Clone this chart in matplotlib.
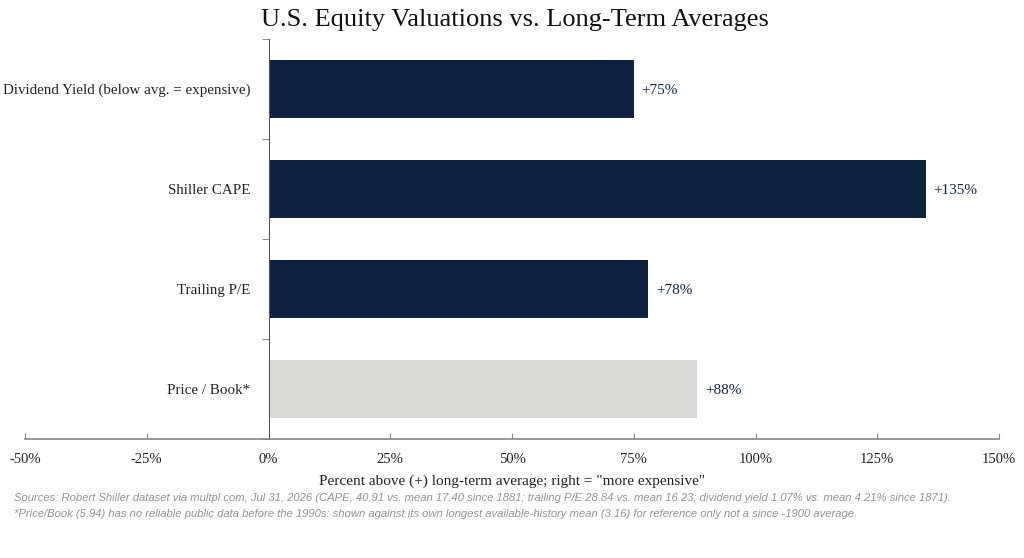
import matplotlib.pyplot as plt

# data
categories = ["Dividend Yield (below avg. = expensive)", "Shiller CAPE", "Trailing P/E", "Price / Book*"]
values = [75, 135, 78, 88]
bar_colors = ["#0f2340", "#0f2340", "#0f2340", "#d9d9d6"]
xticks = [-50, -25, 0, 25, 50, 75, 100, 125, 150]

navy = "#0f2340"
plt.rcParams["font.family"] = ["Liberation Serif", "DejaVu Serif"]

fig = plt.figure(figsize=(10.24, 5.58), dpi=100)
ax = fig.add_axes([25 / 1024, 1 - 439 / 558, 974 / 1024, 400 / 558])

y = range(len(categories))
ax.barh(y, values, height=0.58, color=bar_colors)

# value labels to the right of each bar
for i, v in enumerate(values):
    ax.text(v + 1.6, i, "+%d%%" % v, va="center_baseline", ha="left", fontsize=11, color=navy)

ax.set_xlim(-50, 150)
ax.set_ylim(3.5, -0.5)
ax.set_xticks(xticks)
ax.set_xticklabels(["%d%%" % t for t in xticks])
ax.tick_params(axis="x", direction="in", length=4, color="#888888", pad=10,
               labelsize=10.5, labelcolor="#222222")

ax.set_yticks(list(y))
ax.set_yticklabels(categories)
ax.set_yticks([-0.5, 0.5, 1.5, 2.5, 3.5], minor=True)
ax.tick_params(axis="y", which="major", length=0, pad=13, labelsize=10.8, labelcolor="#222222")
ax.tick_params(axis="y", which="minor", direction="out", length=5, color="#777777")

for s in ["top", "right"]:
    ax.spines[s].set_visible(False)
ax.spines["left"].set_position(("data", 0))
ax.spines["left"].set_color("#555555")
ax.spines["bottom"].set_color("#888888")
ax.spines["bottom"].set_linewidth(1.2)

ax.set_xlabel('Percent above (+) long-term average; right = "more expensive"', fontsize=11,
              color="#222222", labelpad=6)

fig.text(0.503, 0.965, "U.S. Equity Valuations vs. Long-Term Averages", ha="center", va="center",
         fontsize=19, color="#111111")

foot1 = ("Sources: Robert Shiller dataset via multpl.com, Jul 31, 2026 (CAPE, 40.91 vs. mean 17.40 since 1881; "
         "trailing P/E 28.84 vs. mean 16.23; dividend yield 1.07% vs. mean 4.21% since 1871).")
foot2 = ("*Price/Book (5.94) has no reliable public data before the 1990s: shown against its own longest "
         "available-history mean (3.16) for reference only not a since -1900 average.")
for txt, py in [(foot1, 498), (foot2, 514)]:
    fig.text(14 / 1024, 1 - py / 558, txt, ha="left", va="center", fontsize=8.1, style="italic",
             color="#939393", family=["Liberation Sans", "DejaVu Sans"])

fig.savefig("out.png", dpi=100)
